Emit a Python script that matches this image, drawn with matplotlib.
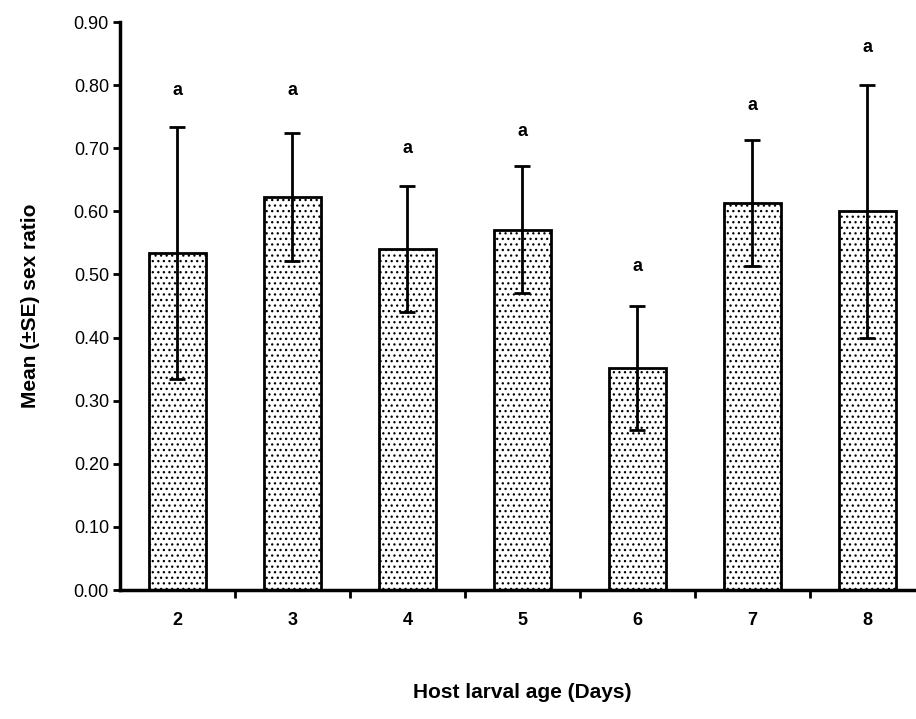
import matplotlib.pyplot as plt
import matplotlib as mpl

plt.rcParams['font.family'] = ['Liberation Sans', 'DejaVu Sans']
mpl.rcParams['hatch.linewidth'] = 0.9
mpl.rcParams['hatch.color'] = '#333333'

ages = [2, 3, 4, 5, 6, 7, 8]
sex_ratio = [0.534, 0.623, 0.540, 0.571, 0.352, 0.613, 0.600]
se = [0.200, 0.101, 0.100, 0.101, 0.098, 0.100, 0.200]
letters = ['a', 'a', 'a', 'a', 'a', 'a', 'a']
letter_y = [0.792, 0.792, 0.700, 0.726, 0.513, 0.767, 0.859]

fig = plt.figure(figsize=(9.16, 7.19), dpi=100)
ax = fig.add_axes([0.131, 0.1794, 0.8788, 0.79])

ax.bar(ages, sex_ratio, width=0.5, color='white', edgecolor='black',
       linewidth=2, hatch='...', zorder=2)
ax.errorbar(ages, sex_ratio, yerr=se, fmt='none', ecolor='black',
            elinewidth=2, capsize=6, capthick=2, zorder=3)

for x, y, t in zip(ages, letter_y, letters):
    ax.text(x, y, t, ha='center', va='center', fontsize=13, fontweight='bold')

ax.set_xlim(1.5, 8.5)
ax.set_ylim(0, 0.9)
ax.set_yticks([i / 10 for i in range(10)])
ax.set_yticklabels(['%.2f' % (i / 10) for i in range(10)], fontsize=13)
ax.set_xticks(ages)
ax.set_xticklabels([str(a) for a in ages], fontsize=13, fontweight='bold')
ax.set_xticks([a + 0.5 for a in ages[:-1]], minor=True)
ax.tick_params(axis='x', which='major', length=0, pad=16)
ax.tick_params(axis='x', which='minor', length=6, width=2, direction='out')
ax.tick_params(axis='y', length=5, width=2, direction='out', pad=3)

ax.spines['top'].set_visible(False)
ax.spines['right'].set_visible(False)
ax.spines['left'].set_linewidth(2.5)
ax.spines['bottom'].set_linewidth(2.5)

ax.set_ylabel('Mean (±SE) sex ratio', fontsize=15, fontweight='bold', labelpad=24)
fig.text(522 / 916, 1 - 692 / 719, 'Host larval age (Days)', ha='center', va='center',
         fontsize=15, fontweight='bold')

fig.savefig('out.png', dpi=100)
